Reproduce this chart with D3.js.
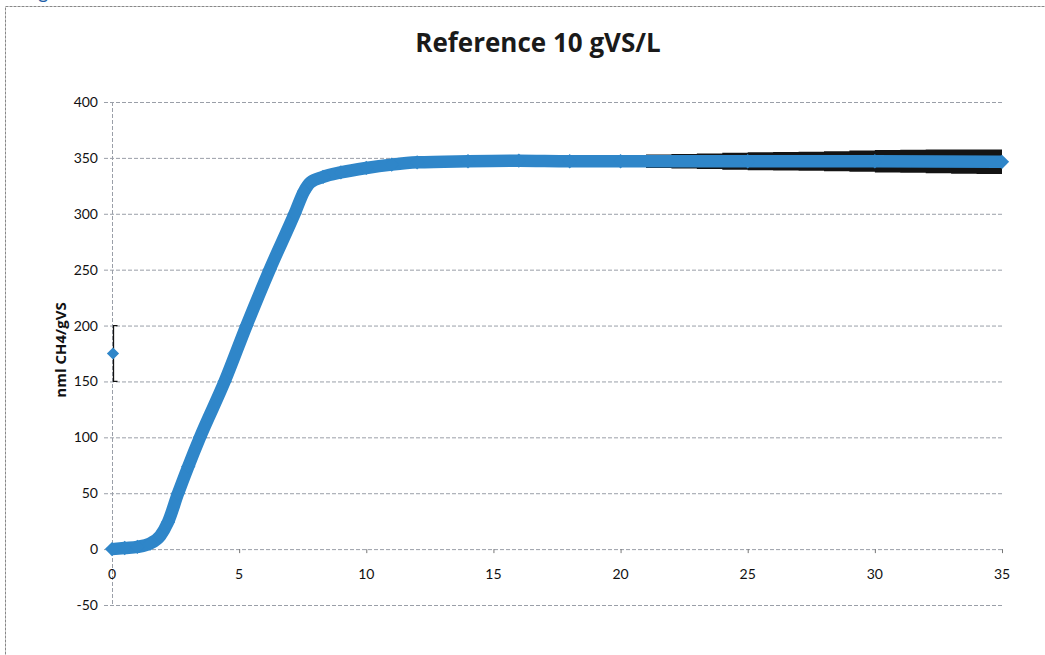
<!DOCTYPE html>
<html>
<head>
<meta charset="utf-8">
<script src="https://cdn.jsdelivr.net/npm/d3@7"></script>
<style>
  body { margin: 0; background: #fff; }
  svg { display: block; font-family: Lato, "Open Sans", sans-serif; }
</style>
</head>
<body>
<svg width="1045" height="655"></svg>
<script>
// values
const days   = [0, 0.5, 1.0, 1.5, 1.9, 2.2, 2.6, 3.0, 3.46, 4.43, 5.29, 6.2, 7.18, 7.55, 7.8, 8.3, 9, 10, 11, 12, 14, 16, 18, 20, 25, 30, 35];
const biogas = [0, 1, 2, 5, 12, 24, 50, 74, 100, 150, 200, 250, 300, 320, 328, 333, 337, 341, 344, 346, 347, 347.5, 347, 347, 347, 347, 346.5];

// spread of the replicates in the tail (error bars)
const errDays = [20.3, 21, 22, 23, 24, 25, 26, 27, 28, 29, 30, 31, 32, 33, 34, 35];
const errSd   = [5, 6, 6.5, 7, 7.5, 8, 8.3, 8.6, 9, 9.5, 10, 10.3, 10.6, 10.8, 11, 11];

// lone point at day 0
const loneDay = [0];
const loneVal = [175];
const loneErr = [25];

const yTicks = [-50, 0, 50, 100, 150, 200, 250, 300, 350, 400];
const xTicks = [0, 5, 10, 15, 20, 25, 30, 35];

const svg = d3.select("svg");
const blue = "#2f86c9";

// frame of the chart area (runs off the picture on right/bottom)
svg.append("rect")
  .attr("x", 5.5).attr("y", 6.5)
  .attr("width", 1100).attr("height", 700)
  .attr("fill", "none")
  .attr("stroke", "#888")
  .attr("stroke-dasharray", "3,1");

// caption letter above the frame, cut off like in the scan
svg.append("text")
  .attr("x", 38).attr("y", -1)
  .attr("fill", "#1f5fa8")
  .attr("font-size", 20)
  .text("g");

const x = d3.scaleLinear().domain([0, 35]).range([112, 1002]);
const y = d3.scaleLinear().domain([-50, 400]).range([605, 102]);

// horizontal gridlines
svg.append("g")
  .selectAll("line")
  .data(yTicks)
  .join("line")
  .attr("x1", x(0) - 8).attr("x2", x(35))
  .attr("y1", d => y(d) + 0.5).attr("y2", d => y(d) + 0.5)
  .attr("stroke", "#9a9fa8")
  .attr("stroke-dasharray", "4,2");

// vertical axis line
svg.append("line")
  .attr("x1", x(0) + 0.5).attr("x2", x(0) + 0.5)
  .attr("y1", y(400)).attr("y2", y(-50))
  .attr("stroke", "#9a9fa8")
  .attr("stroke-dasharray", "4,2");

// y tick labels
svg.append("g")
  .selectAll("text")
  .data(yTicks)
  .join("text")
  .attr("x", 98)
  .attr("y", d => y(d) + 5)
  .attr("text-anchor", "end")
  .attr("font-size", 14)
  .attr("fill", "#111")
  .text(d => d);

// x axis sits at zero: ticks and labels
svg.append("g")
  .selectAll("line")
  .data(xTicks)
  .join("line")
  .attr("x1", d => x(d) + 0.5).attr("x2", d => x(d) + 0.5)
  .attr("y1", y(0)).attr("y2", y(0) + 4)
  .attr("stroke", "#777");

svg.append("g")
  .selectAll("text")
  .data(xTicks)
  .join("text")
  .attr("x", d => x(d))
  .attr("y", y(0) + 30)
  .attr("text-anchor", "middle")
  .attr("font-size", 14)
  .attr("fill", "#111")
  .text(d => d);

// title
svg.append("text")
  .attr("x", 538).attr("y", 52)
  .attr("text-anchor", "middle")
  .attr("font-family", "'Open Sans', sans-serif")
  .attr("font-size", 26)
  .attr("font-weight", "bold")
  .attr("fill", "#1a1a1a")
  .text("Reference 10 gVS/L");

// y axis title
svg.append("text")
  .attr("transform", "translate(66,350) rotate(-90)")
  .attr("text-anchor", "middle")
  .attr("font-family", "'Open Sans', sans-serif")
  .attr("font-size", 15)
  .attr("font-weight", "bold")
  .attr("fill", "#111")
  .text("nml CH4/gVS");

// tail error band (dense black error bars)
const valAt = d3.scaleLinear().domain(days).range(biogas);
const band = d3.area()
  .x((d, i) => x(errDays[i]))
  .y0((d, i) => y(valAt(errDays[i]) - errSd[i]))
  .y1((d, i) => y(valAt(errDays[i]) + errSd[i]))
  .curve(d3.curveStepAfter);
svg.append("path")
  .datum(errSd)
  .attr("d", band)
  .attr("fill", "#141414");

// main series
const line = d3.line()
  .x((d, i) => x(days[i]))
  .y((d, i) => y(biogas[i]))
  .curve(d3.curveMonotoneX);
svg.append("path")
  .datum(biogas)
  .attr("d", line)
  .attr("fill", "none")
  .attr("stroke", blue)
  .attr("stroke-width", 12.5)
  .attr("stroke-linejoin", "round");

const diamond = d3.symbol().type(d3.symbolDiamond2).size(130);
svg.append("g")
  .selectAll("path")
  .data(days)
  .join("path")
  .attr("transform", (d, i) => `translate(${x(d)},${y(biogas[i])})`)
  .attr("d", diamond)
  .attr("fill", blue);

// lone point with its error bar
loneDay.forEach((d, i) => {
  const cx = x(d) + 1.5;
  svg.append("path")
    .attr("d", `M${cx + 4},${y(loneVal[i] + loneErr[i])}H${cx}V${y(loneVal[i] - loneErr[i])}H${cx + 4}`)
    .attr("fill", "none")
    .attr("stroke", "#111")
    .attr("stroke-width", 1.3);
  svg.append("path")
    .attr("transform", `translate(${x(d) + 1},${y(loneVal[i])})`)
    .attr("d", d3.symbol().type(d3.symbolDiamond2).size(95))
    .attr("fill", blue);
});
</script>
</body>
</html>
